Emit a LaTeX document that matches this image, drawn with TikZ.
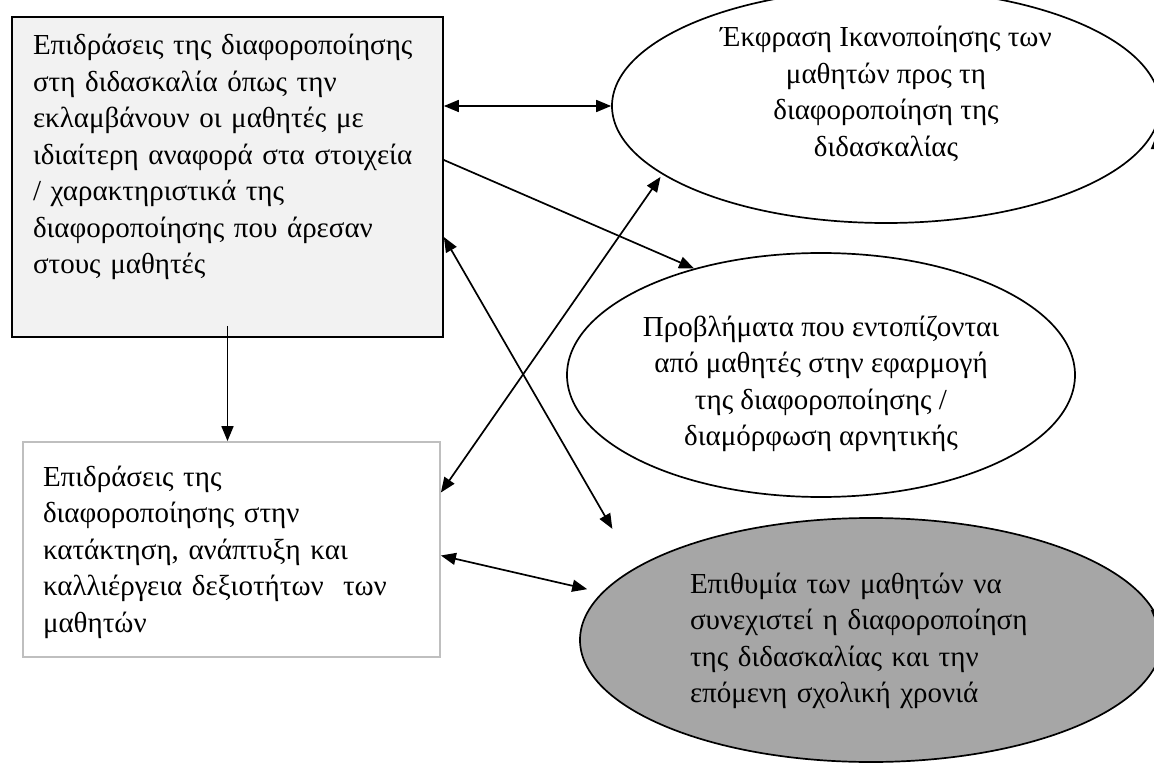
\documentclass[tikz,border=0pt]{standalone}
\usepackage{fontspec}
\setmainfont{Liberation Serif}
\usetikzlibrary{shapes.geometric,arrows.meta}
\definecolor{boxgray}{HTML}{F2F2F2}
\definecolor{framegray}{HTML}{BFBFBF}
\definecolor{wishgray}{HTML}{A6A6A6}

\begin{document}
\begin{tikzpicture}[x=1pt, y=-1pt, line width=1.7pt,
		>={Triangle[length=15pt,width=12pt]},
		every node/.style={font=\fontsize{29pt}{36.5pt}\selectfont},
		textbox/.style={rectangle, align=left, inner ysep=0pt},
		oval/.style={ellipse, draw, inner sep=0pt}]
		\useasboundingbox (0,0) rectangle (1154,767);
		\clip (0,0) rectangle (1154,767);
		
		%boxes on the left
		\node (box1) at (227.5,177) [textbox, draw, fill=boxgray, inner xsep=21pt, text width=389pt, text height=38pt, text depth=282pt]{Επιδράσεις της διαφοροποίησης\\
			στη διδασκαλία όπως την\\
			εκλαμβάνουν οι μαθητές με\\
			ιδιαίτερη αναφορά στα στοιχεία\\
			/ χαρακτηριστικά της\\
			διαφοροποίησης που άρεσαν\\
			στους μαθητές};
		\node (box2) at (231.5,549.5) [textbox, draw=framegray, line width=1.8pt, inner xsep=20pt, text width=377pt, text height=44pt, text depth=171pt]{Επιδράσεις της\\
			διαφοροποίησης στην\\
			κατάκτηση, ανάπτυξη και\\
			καλλιέργεια δεξιοτήτων\ \ των\\
			μαθητών};
		
		%ellipses on the right
		\node (sat) at (886,106) [oval, align=center, text height=108pt, text depth=7pt, minimum width=548pt, minimum height=234pt]{Έκφραση Ικανοποίησης των\\
			μαθητών προς τη\\
			διαφοροποίηση της\\
			διδασκαλίας};
		\node (prob) at (821,375) [oval, align=center, text height=148pt, text depth=7pt, minimum width=508pt, minimum height=244pt]{Προβλήματα που εντοπίζονται\\
			από μαθητές στην εφαρμογή\\
			της διαφοροποίησης /\\
			διαμόρφωση αρνητικής};
		\node (wish) at (871,640) [oval, fill=wishgray, align=left, text width=362pt, text height=20pt, text depth=114pt, minimum width=582pt, minimum height=244pt]{Επιθυμία των μαθητών να\\
			συνεχιστεί η διαφοροποίηση\\
			της διδασκαλίας και την\\
			επόμενη σχολική χρονιά};
		
		%connectors
		\draw[<->] (box1.east |- sat.west) -- (sat.west);
		\draw[->] ([yshift=17pt]box1.east) -- (prob.140);
		\draw[<->, shorten >=45pt] ([yshift=-60pt]box1.east) -- (wish.163);
		\draw[<->, shorten >=3pt] ([yshift=57pt]box2.east) -- (sat.197);
		\draw[<->, shorten >=15pt] ([yshift=-6pt]box2.east) -- (wish.170);
		\draw[->] ([yshift=12pt]box1.south) -- (box1.south |- box2.north);
		\draw[<->] ([xshift=4pt]sat.-6) -- ([xshift=4pt]sat.-6 |- wish.3);
\end{tikzpicture}
\end{document}
